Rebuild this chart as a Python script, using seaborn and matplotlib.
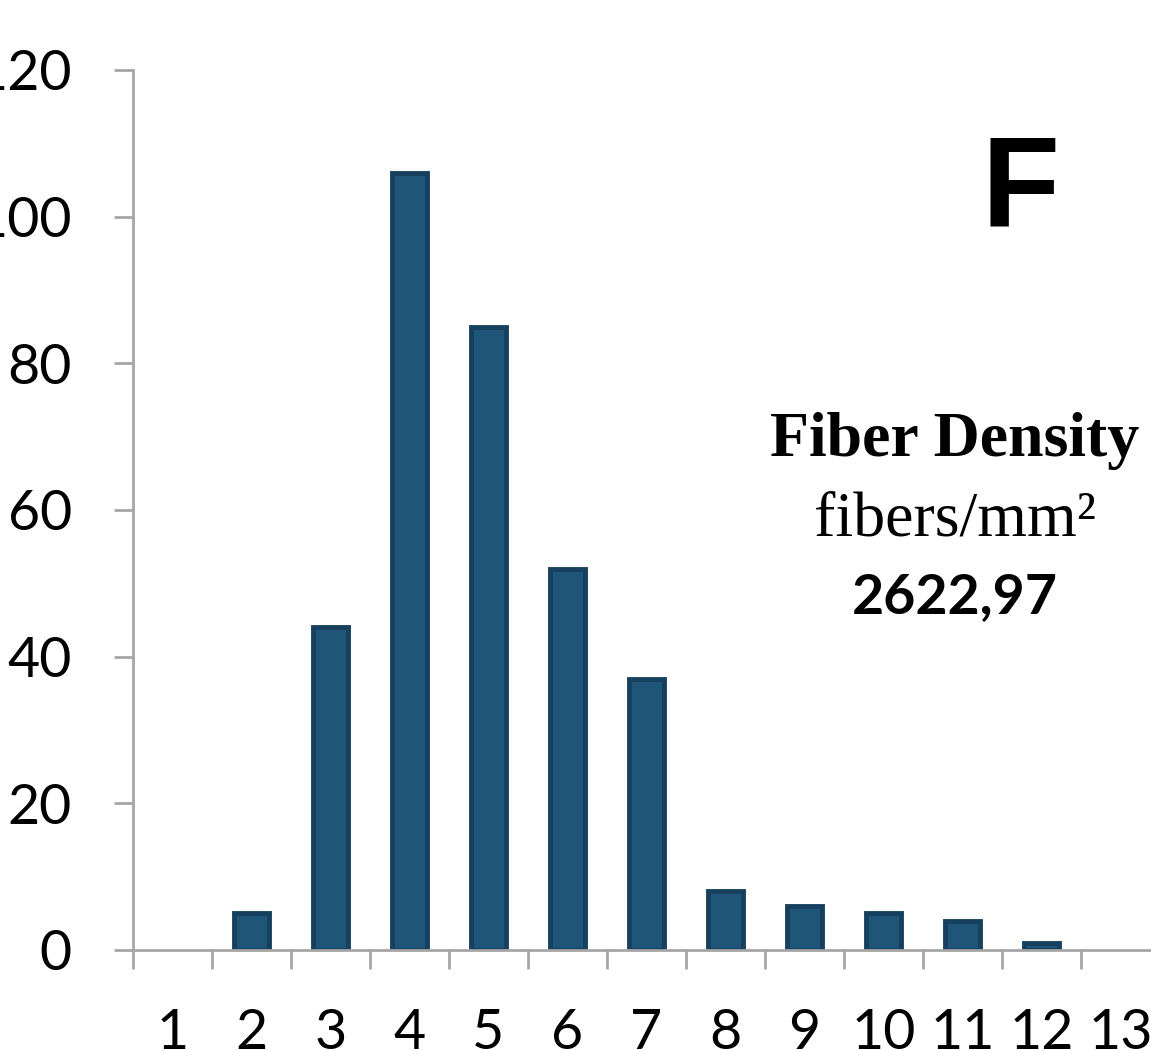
import matplotlib
matplotlib.use("Agg")
import matplotlib.pyplot as plt
import seaborn as sns
import pandas as pd
import numpy as np

# Fiber diameter classes and counts
classes = [str(i) for i in range(1, 14)]
counts = [0, 5, 44, 106, 85, 52, 37, 8, 6, 5, 4, 1, 0]
density_value = "2622,97"

df = pd.DataFrame({"cls": classes, "count": counts})

sns.set_theme(style="white")
plt.rcParams["font.family"] = ["Lato", "DejaVu Sans"]
plt.rcParams["text.color"] = "black"
plt.rcParams["xtick.color"] = "black"
plt.rcParams["ytick.color"] = "black"

fig = plt.figure(figsize=(11.51, 10.5), dpi=100)
ax = fig.add_axes([133 / 1151, 100 / 1050, 1027 / 1151, 880 / 1050])

sns.barplot(data=df, x="cls", y="count", ax=ax, color="#1f5578",
            saturation=1, width=0.45, edgecolor="#16405e", linewidth=3.5)

# empty classes get no outline
for patch, c in zip(ax.patches, counts):
    if c == 0:
        patch.set_visible(False)

ax.set_xlim(-0.5, 12.5)
ax.set_ylim(0, 120)
ax.set_xlabel("")
ax.set_ylabel("")

grey = "#a6a6a6"
for side in ["top", "right"]:
    ax.spines[side].set_visible(False)
for side in ["left", "bottom"]:
    ax.spines[side].set_color(grey)
    ax.spines[side].set_linewidth(2)

ax.set_yticks(np.arange(0, 121, 20))
ax.tick_params(axis="y", which="major", direction="out", length=14, width=2,
               color=grey, labelcolor="black", labelsize=40, pad=30, left=True)

# category labels centred in slots, tick marks on slot boundaries
ax.set_xticks(np.arange(13))
ax.set_xticklabels(classes)
ax.set_xticks(np.arange(-0.5, 12.0, 1.0), minor=True)
ax.tick_params(axis="x", which="major", length=0, labelsize=40,
               labelcolor="black", pad=42)
ax.tick_params(axis="x", which="minor", direction="out", length=14, width=2,
               color=grey, bottom=True)

fig.text(1020 / 1151, 1 - 192 / 1050, "F", fontsize=92, fontweight="bold",
         family="Liberation Sans", ha="center", va="center", color="black")
fig.text(955 / 1151, 1 - 441 / 1050, "Fiber Density", fontsize=46,
         fontweight="bold", family="Liberation Serif", ha="center",
         va="center", color="black")
fig.text(955 / 1151, 1 - 520 / 1050, "fibers/mm\u00b2", fontsize=46,
         family="Liberation Serif", ha="center", va="center", color="black")
fig.text(955 / 1151, 1 - 597 / 1050, density_value, fontsize=40,
         fontweight="bold", ha="center", va="center", color="black")

fig.savefig("out.png", dpi=100)
